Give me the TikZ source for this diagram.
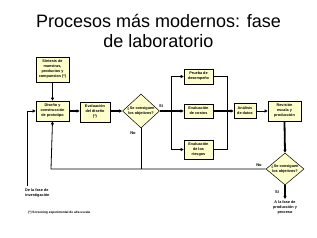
\documentclass[tikz,border=0pt]{standalone}
\usepackage{fontspec}
\setmainfont{Liberation Sans}
\usetikzlibrary{shapes.geometric,arrows.meta}
\definecolor{boxfill}{HTML}{FFFFCC}
\tikzset{
  pbox/.style={draw=black,line width=0.6pt,fill=boxfill,inner sep=0pt,align=center,
    font=\fontsize{3.8}{5}\selectfont\bfseries},
  dia/.style={draw=black,line width=0.5pt,fill=boxfill,shape=diamond,inner sep=0pt,
    minimum width=37pt,minimum height=34pt},
  dtext/.style={align=center,inner sep=0pt,font=\fontsize{3.8}{5}\selectfont\bfseries},
  lbl/.style={inner sep=0pt,font=\fontsize{4}{5}\selectfont\bfseries},
  thin/.style={line width=0.8pt},
  thick2/.style={line width=1.8pt},
  arr/.style={-{Triangle[length=3pt,width=3pt]}},
}
\begin{document}
\begin{tikzpicture}[x=1pt,y=-1pt]
\useasboundingbox (0,0) rectangle (317,238);
% title
\node[font=\fontsize{18}{20}\selectfont,align=center,inner sep=0pt] (title) at (158.5,31)
  {Procesos más modernos: fase\\de laboratorio};
% boxes
\node[pbox,minimum width=33pt,minimum height=25pt] (A) at (52.5,69.5)
  {Síntesis de\\muestras,\\productos y\\compuestos (*)};
\node[pbox,minimum width=33pt,minimum height=20pt] (B) at (52.5,111)
  {Diseño y\\construcción\\de prototipo};
\node[pbox,minimum width=30pt,minimum height=20pt] (C) at (95,112)
  {Evaluación\\del diseño\\(*)};
\node[dia] (d1) at (141,111) {};
\node[dtext] at (d1) {¿Se consiguen\\los objetivos?};
\node[pbox,minimum width=29pt,minimum height=15pt] (D) at (198.5,76.5)
  {Prueba de\\desempeño};
\node[pbox,minimum width=29pt,minimum height=14pt] (E) at (198.5,111)
  {Evaluación\\de costos};
\node[pbox,minimum width=29pt,minimum height=19pt] (F) at (198.5,149.5)
  {Evaluación\\de los\\riesgos};
\node[pbox,minimum width=22pt,minimum height=15pt] (G) at (245,111)
  {Análisis\\de datos};
\node[pbox,minimum width=33pt,minimum height=20pt] (H) at (284.5,111)
  {Revisión\\escala y\\producción};
\node[dia,minimum width=38pt,minimum height=32pt] (d2) at (285,169) {};
\node[dtext] at (d2) {¿Se consiguen\\los objetivos?};
% coordinates
\coordinate (br) at (171,111);
\coordinate (brT) at (171,76.5);
\coordinate (brB) at (171,149.5);
\coordinate (rT) at (227,76.5);
\coordinate (rM) at (227,111);
\coordinate (rB) at (227,149.5);
\coordinate (back) at (51,169);
\coordinate (inL) at (27,186);
\coordinate (inC) at (27,111);
\coordinate (out) at (285,199);
% connectors
\draw[thin,arr] (A) -- (B);
\draw[thin,arr] (inL) -- (inC) -- (B.west);
\draw[thick2,arr] (B.east) -- (C.west |- B.east);
\draw[thick2,arr] (C.east |- d1.west) -- (d1.west);
\draw[thick2] (d1.east) -- (br);
\draw[thick2,arr] (br) -- (E.west);
\draw[thin,arr] (br) -- (brT) -- (D.west);
\draw[thin,arr] (br) -- (brB) -- (F.west);
\draw[thin] (D.east) -- (rT) -- (rB) -- (F.east);
\draw[thick2,arr] (E.east) -- (G.west);
\draw[thin,arr] (G.east) -- (H.west);
\draw[thick2,arr] (H.south) -- (d2.north);
\draw[thin,arr] (d2.west) -- (back) -- (B.south);
\draw[thin] (d1.south) -- (d1.south |- back);
\draw[thick2,arr] (d2.south) -- (out);
% labels
\node[lbl] (s1) at (161,106) {Sí};
\node[lbl] (n1) at (133,133) {No};
\node[lbl] (n2) at (259,165) {No};
\node[lbl] (s2) at (277,192) {Sí};
\node[dtext,anchor=north] (prod) at (285,201) {A la fase de\\producción y\\proceso};
\node[dtext,anchor=north west,align=left] (inv) at (25,189) {De la fase de\\investigación};
\node[inner sep=0pt,anchor=west,font=\fontsize{3.2}{4}\selectfont\bfseries] (foot) at (28,213)
  {(*) Screening experimental de alta escala};
\end{tikzpicture}
\end{document}
